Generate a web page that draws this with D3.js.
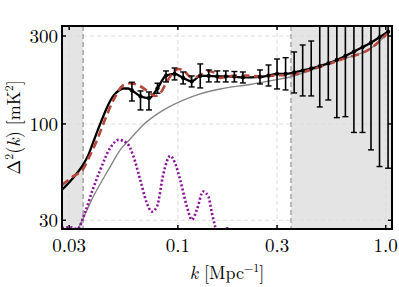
<!DOCTYPE html>
<html>
<head>
<meta charset="utf-8">
<script src="https://cdn.jsdelivr.net/npm/d3@7"></script>
<style>
  html, body { margin: 0; padding: 0; background: #fff; }
  svg { display: block; }
  text { font-family: "Latin Modern Roman", "CMU Serif", "Liberation Serif", serif; fill: #000; }
</style>
</head>
<body>
<svg width="399" height="287"></svg>
<script>
// Axis ticks
const xTicks = [0.03, 0.1, 0.3, 1.0];
const xTickLabels = ["0.03", "0.1", "0.3", "1.0"];
const yTicks = [30, 100, 300];
const yTickLabels = ["30", "100", "300"];

// Excluded k ranges (shaded)
const lowCut = 0.035;
const highCut = 0.35;

// Measured power spectrum with error bars
const dataK = [0.0601, 0.0661, 0.0726, 0.0798, 0.0877, 0.0964, 0.1060, 0.1165, 0.1281, 0.1408,
    0.1547, 0.1701, 0.1870, 0.2055, 0.2483, 0.2730, 0.3000, 0.3298, 0.3626, 0.3985,
    0.4381, 0.4815, 0.5293, 0.5818, 0.6396, 0.7030, 0.7728, 0.8494, 0.9337, 1.0264];
const dataV = [152, 141, 138, 156.2, 183, 186.7, 177.6, 170, 182.1, 182.1,
    181, 181, 180.5, 178.7, 179.9, 183.2, 186.7, 187, 190.3, 195,
    200, 206.3, 213.4, 222.4, 233.8, 246.7, 260.6, 276, 295.2, 316.7];
const dataLo = [133.2, 119.1, 119.1, 146.7, 169, 173.3, 164.8, 158.8, 156.8, 169,
    169, 169, 169, 166.9, 164.8, 160.7, 154.8, 152.9, 147.3, 141.9,
    141.9, 123.6, 134.9, 108.2, 109.5, 89.9, 89.9, 72.3, 58.7, 57.5];
const dataHi = [168.3, 151, 149.1, 166.3, 193.9, 201.2, 191.4, 182.1, 211.6, 196.3,
    193.9, 193.9, 192.5, 191.4, 196.3, 208.9, 225.1, 228.8, 245.8, 268.2,
    281.9, 344, 345, 457, 499, 677, 755, 1054, 1485, 1744];

// Black curve below the first measured bin
const fitK = [0.0277, 0.031, 0.0352, 0.0373, 0.0392, 0.0423, 0.0456, 0.0489, 0.052, 0.0546, 0.0575];
const fitV = [43.9, 50.3, 60.7, 68.8, 79.9, 100, 122.9, 141.9, 151.9, 155.7, 155.7];

// Red dashed model
const redK = [0.0277, 0.031, 0.0352, 0.0379, 0.0409, 0.0439, 0.049, 0.0548, 0.059, 0.0659, 0.0722,
    0.0778, 0.0822, 0.0885, 0.095, 0.1007, 0.1084, 0.1159, 0.1225, 0.1309, 0.1403,
    0.1511, 0.1596, 0.1719, 0.1887, 0.2145, 0.2487, 0.2932, 0.3467, 0.45, 0.603, 0.869, 1.038];
const redV = [46.7, 51.5, 57.5, 68, 82, 100.9, 134.9, 162.7, 166.3, 160.1, 149.6,
    141.9, 146.7, 169.6, 190, 198.8, 191.4, 178.7, 179.8, 186.7, 193.9,
    188.4, 177.6, 180.5, 182.8, 182.8, 181, 183.3, 184.4, 199.2, 222.4, 262.4, 316.7];

// Grey smooth model
const greyK = [0.032, 0.0332, 0.0392, 0.0473, 0.0528, 0.059, 0.0681, 0.0778, 0.0889, 0.1084,
    0.128, 0.1596, 0.2226, 0.2937, 0.3467, 0.45, 0.603, 0.869, 1.038];
const greyV = [25.5, 27.3, 40.4, 58.7, 72.3, 82.9, 98.8, 111.2, 122.1, 135.8,
    145.5, 154.8, 163.8, 173.3, 179.8, 198, 222.4, 262.4, 316.7];

// Purple dotted oscillating component
const purpleK = [0.0277, 0.0304, 0.0328, 0.0358, 0.0392, 0.0423, 0.0473, 0.0519, 0.0569, 0.0612,
    0.0659, 0.0709, 0.075, 0.0793, 0.0853, 0.0918, 0.097, 0.1026, 0.1105, 0.1168,
    0.1234, 0.1323, 0.1403, 0.1458, 0.1511, 0.156, 0.163, 0.1726, 0.18, 0.19];
const purpleV = [27.2, 27.5, 26.9, 33.3, 45, 56.3, 74.1, 81.9, 78.6, 66.5,
    49.7, 37.2, 33.4, 35.6, 54, 67.1, 61.2, 49.7, 35.6, 30.2,
    34.2, 43, 40.3, 32.8, 27.7, 24, 23.5, 27.1, 25, 20];

const svg = d3.select("svg");
const W = 399, H = 287;
const margin = {left: 62, top: 26, right: 7, bottom: 58};
const x0 = margin.left, x1 = W - margin.right;
const y0 = H - margin.bottom, y1 = margin.top;

const x = d3.scaleLog().domain([0.0277, 1.072]).range([x0, x1]);
const y = d3.scaleLog().domain([26.9, 340]).range([y0, y1]);

svg.append("defs").append("clipPath").attr("id", "plot")
    .append("rect").attr("x", x0).attr("y", y1).attr("width", x1 - x0).attr("height", y0 - y1);

const plot = svg.append("g").attr("clip-path", "url(#plot)");

// Shaded excluded regions
plot.append("rect")
    .attr("x", x0).attr("y", y1)
    .attr("width", x(lowCut) - x0).attr("height", y0 - y1)
    .attr("fill", "#e4e4e4");
plot.append("rect")
    .attr("x", x(highCut)).attr("y", y1)
    .attr("width", x1 - x(highCut)).attr("height", y0 - y1)
    .attr("fill", "#e4e4e4");

// Grid
plot.selectAll(".gx").data(xTicks).enter().append("line")
    .attr("x1", d => x(d)).attr("x2", d => x(d)).attr("y1", y1).attr("y2", y0)
    .attr("stroke", "#dcdcdc").attr("stroke-width", 1).attr("stroke-dasharray", "4,3");
plot.selectAll(".gy").data(yTicks).enter().append("line")
    .attr("x1", x0).attr("x2", x1).attr("y1", d => y(d)).attr("y2", d => y(d))
    .attr("stroke", "#dcdcdc").attr("stroke-width", 1).attr("stroke-dasharray", "4,3");

// Cut boundaries
plot.selectAll(".cut").data([lowCut, highCut]).enter().append("line")
    .attr("x1", d => x(d)).attr("x2", d => x(d)).attr("y1", y1).attr("y2", y0)
    .attr("stroke", "#9a9a9a").attr("stroke-width", 1.3).attr("stroke-dasharray", "5,3");

const line = d3.line().x(d => x(d[0])).y(d => y(d[1])).curve(d3.curveMonotoneX);
const zip = (ks, vs) => ks.map((k, i) => [k, vs[i]]);

// Grey model
plot.append("path").datum(zip(greyK, greyV))
    .attr("d", line).attr("fill", "none")
    .attr("stroke", "#858585").attr("stroke-width", 1.4);

// Purple dotted
plot.append("path").datum(zip(purpleK, purpleV))
    .attr("d", line).attr("fill", "none")
    .attr("stroke", "#8a0f9a").attr("stroke-width", 2.6).attr("stroke-dasharray", "2,2.2");

// Black curve through the data
plot.append("path").datum(zip(fitK, fitV).concat(zip(dataK, dataV)))
    .attr("d", line).attr("fill", "none")
    .attr("stroke", "#000").attr("stroke-width", 2.3);

// Red dashed model
plot.append("path").datum(zip(redK, redV))
    .attr("d", line).attr("fill", "none")
    .attr("stroke", "#b5473b").attr("stroke-width", 2.6).attr("stroke-dasharray", "8,4.5");

// Error bars
const bars = plot.selectAll(".bar").data(dataK.map((k, i) => ({k, v: dataV[i], lo: dataLo[i], hi: dataHi[i]})))
    .enter().append("g");
bars.append("line")
    .attr("x1", d => x(d.k)).attr("x2", d => x(d.k))
    .attr("y1", d => y(d.lo)).attr("y2", d => y(d.hi))
    .attr("stroke", "#000").attr("stroke-width", 1.6);
bars.append("line")
    .attr("x1", d => x(d.k) - 3).attr("x2", d => x(d.k) + 3)
    .attr("y1", d => y(d.lo)).attr("y2", d => y(d.lo))
    .attr("stroke", "#000").attr("stroke-width", 1.4);
bars.append("line")
    .attr("x1", d => x(d.k) - 3).attr("x2", d => x(d.k) + 3)
    .attr("y1", d => y(d.hi)).attr("y2", d => y(d.hi))
    .attr("stroke", "#000").attr("stroke-width", 1.4);
bars.append("circle")
    .attr("cx", d => x(d.k)).attr("cy", d => y(d.v)).attr("r", 2.1)
    .attr("fill", "#000");

// Frame and inward ticks
const axes = svg.append("g");
axes.append("rect")
    .attr("x", x0).attr("y", y1).attr("width", x1 - x0).attr("height", y0 - y1)
    .attr("fill", "none").attr("stroke", "#000").attr("stroke-width", 2);
xTicks.forEach(t => {
    axes.append("line").attr("x1", x(t)).attr("x2", x(t)).attr("y1", y0).attr("y2", y0 - 4)
        .attr("stroke", "#000").attr("stroke-width", 1.5);
    axes.append("line").attr("x1", x(t)).attr("x2", x(t)).attr("y1", y1).attr("y2", y1 + 4)
        .attr("stroke", "#000").attr("stroke-width", 1.5);
});
yTicks.forEach(t => {
    axes.append("line").attr("x1", x0).attr("x2", x0 + 4).attr("y1", y(t)).attr("y2", y(t))
        .attr("stroke", "#000").attr("stroke-width", 1.5);
    axes.append("line").attr("x1", x1).attr("x2", x1 - 4).attr("y1", y(t)).attr("y2", y(t))
        .attr("stroke", "#000").attr("stroke-width", 1.5);
});

// Tick labels
axes.selectAll(".xl").data(xTicks).enter().append("text")
    .attr("x", d => x(d)).attr("y", y0 + 23)
    .attr("text-anchor", "middle").attr("font-size", 19)
    .text((d, i) => xTickLabels[i]);
axes.selectAll(".yl").data(yTicks).enter().append("text")
    .attr("x", x0 - 4).attr("y", d => y(d) + 7)
    .attr("text-anchor", "end").attr("font-size", 19)
    .text((d, i) => yTickLabels[i]);

// Axis titles
const xt = svg.append("text")
    .attr("x", (x0 + x1) / 2).attr("y", 279)
    .attr("text-anchor", "middle").attr("font-size", 18);
xt.append("tspan").attr("font-style", "italic").text("k");
xt.append("tspan").text(" [Mpc");
xt.append("tspan").attr("font-size", 12).attr("dy", -7).text("\u22121");
xt.append("tspan").attr("dy", 7).text("]");

const yt = svg.append("text")
    .attr("transform", `translate(20,${(y0 + y1) / 2}) rotate(-90)`)
    .attr("text-anchor", "middle").attr("font-size", 18);
yt.append("tspan").text("\u0394");
yt.append("tspan").attr("font-size", 12).attr("dy", -7).text("2");
yt.append("tspan").attr("dy", 7).text("(");
yt.append("tspan").attr("font-style", "italic").text("k");
yt.append("tspan").text(") [mK");
yt.append("tspan").attr("font-size", 12).attr("dy", -7).text("2");
yt.append("tspan").attr("dy", 7).text("]");
</script>
</body>
</html>
